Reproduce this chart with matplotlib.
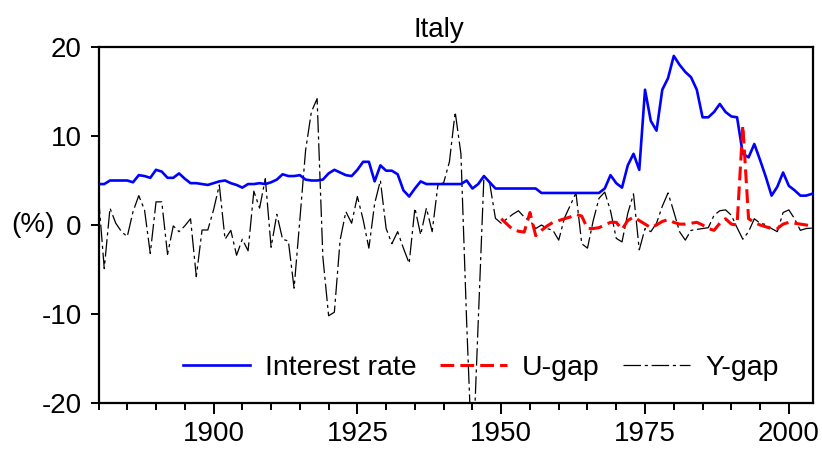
import numpy as np
import matplotlib
matplotlib.use("Agg")
import matplotlib.pyplot as plt

plt.rcParams["font.family"] = ["Liberation Sans", "DejaVu Sans"]
plt.rcParams["axes.unicode_minus"] = False

years = np.arange(1880, 2005)

interest_rate = [
    4.6, 4.6, 5.0, 5.0, 5.0, 5.0, 4.8, 5.6, 5.5, 5.3,      # 1880s
    6.2, 6.0, 5.3, 5.3, 5.8, 5.2, 4.7, 4.7, 4.6, 4.5,      # 1890s
    4.7, 4.9, 5.0, 4.7, 4.5, 4.2, 4.6, 4.6, 4.7, 4.6,      # 1900s
    4.8, 5.1, 5.7, 5.5, 5.5, 5.6, 5.1, 5.0, 5.0, 5.1,      # 1910s
    5.8, 6.2, 5.9, 5.6, 5.5, 6.2, 7.1, 7.1, 4.9, 6.7,      # 1920s
    6.1, 6.1, 5.7, 3.9, 3.2, 4.1, 4.9, 4.6, 4.6, 4.6,      # 1930s
    4.6, 4.6, 4.6, 4.6, 5.0, 4.1, 4.6, 5.5, 4.8, 4.1,      # 1940s
    4.1, 4.1, 4.1, 4.1, 4.1, 4.1, 4.1, 3.6, 3.6, 3.6,      # 1950s
    3.6, 3.6, 3.6, 3.6, 3.6, 3.6, 3.6, 3.6, 4.1, 5.6,      # 1960s
    4.7, 4.2, 6.7, 8.0, 6.2, 15.2, 11.7, 10.6, 15.2, 16.5, # 1970s
    19.0, 18.0, 17.2, 16.6, 15.2, 12.1, 12.1, 12.7, 13.6, 12.7,  # 1980s
    12.2, 12.1, 8.0, 7.6, 9.1, 7.3, 5.4, 3.3, 4.3, 5.9,    # 1990s
    4.4, 3.9, 3.3, 3.3, 3.5,                               # 2000s
]

y_gap = [
    3.2, -4.9, 1.9, 0.2, -0.75, -1.3, 1.5, 3.3, 1.7, -3.2,       # 1880s
    2.6, 2.6, -3.3, -0.1, -0.75, -0.1, 0.7, -5.8, -0.56, -0.56,  # 1890s
    1.7, 4.5, -1.6, -0.6, -3.4, -1.6, -2.9, 3.8, 1.9, 5.2,       # 1900s
    -2.5, 1.2, -1.6, -1.8, -7.1, 0.6, 8.4, 12.7, 14.2, -3.6,     # 1910s
    -10.2, -9.8, -1.7, 1.5, 0.2, 3.2, 0.6, -2.6, 2.4, 5.0,       # 1920s
    -0.4, -2.1, -0.75, -2.6, -4.3, 1.9, -1.1, 1.9, -0.75, 4.5,   # 1930s
    4.75, 7.1, 12.7, 8.0, -11.0, -27.5, -11.0, 5.5, 4.7, 0.75,   # 1940s
    0.2, 0.7, 1.2, 1.6, 0.9, 0.5, -0.4, 0.0, -0.4, -0.6,         # 1950s
    -1.7, 0.8, 2.2, 3.6, -2.1, -2.6, 0.5, 3.0, 3.7, 1.6,         # 1960s
    -1.5, -1.9, 1.3, 3.5, -2.8, -0.4, -0.75, 0.2, 2.1, 3.6,      # 1970s
    1.5, -0.75, -1.7, -0.6, -0.5, -0.4, -0.3, 1.1, 1.6, 1.7,     # 1980s
    1.1, -0.3, -1.6, -0.75, 0.7, 0.2, 0.05, -0.4, -0.75, 1.4,    # 1990s
    1.7, 0.7, -0.6, -0.4, -0.35,                                 # 2000s
]

u_years = np.arange(1950, 2005)
u_gap = [
    0.7, 0.1, -0.5, -0.7, -0.8, 1.4, -1.2, -0.6, -0.1, 0.3,   # 1950s
    0.5, 0.7, 0.9, 1.2, 1.0, -0.4, -0.4, -0.3, 0.0, 0.3,      # 1960s
    0.3, -0.5, 0.5, 0.9, 0.5, 0.1, -0.3, 0.0, 0.4, 0.6,       # 1970s
    0.3, 0.1, 0.1, 0.2, 0.3, 0.0, -0.4, -0.6, 0.2, 0.7,       # 1980s
    0.1, 0.0, 11.2, 0.7, 0.3, 0.0, -0.2, -0.4, -0.4, 0.1,     # 1990s
    0.3, 0.2, 0.1, 0.0, -0.1,                                 # 2000s
]

fig = plt.figure(figsize=(8.22, 4.49), dpi=100)
ax = fig.add_axes([98.5 / 822, 1 - 403 / 449, (813 - 98.5) / 822, (403 - 47) / 449])

ax.plot(years, interest_rate, color="#0000ff", lw=1.9, label="Interest rate", zorder=3)
ax.plot(u_years, u_gap, color="#ff0000", lw=2.2, linestyle=(0, (4.5, 2)),
        label="U-gap", zorder=4)
ax.plot(years, y_gap, color="black", lw=0.9, linestyle=(0, (14, 3, 2.5, 3)),
        label="Y-gap", zorder=2)

ax.set_xlim(1880, 2004.2)
ax.set_ylim(-20, 20)
ax.set_yticks([-20, -10, 0, 10, 20])
ax.set_xticks([1900, 1925, 1950, 1975, 2000])
ax.set_xticks(np.arange(1880, 2005, 5), minor=True)

for side in ["top", "bottom", "left", "right"]:
    ax.spines[side].set_linewidth(1.6)

ax.tick_params(axis="y", which="major", length=6, width=1.4, pad=6, labelsize=20)
ax.tick_params(axis="x", which="major", length=8, width=1.4, pad=5, labelsize=20)
ax.tick_params(axis="x", which="minor", length=5, width=1.4)

ax.set_ylabel("(%)", rotation=0, ha="right", va="center", fontsize=20)
ax.yaxis.set_label_coords(-0.061, 0.5)

fig.text(439 / 822, 1 - 37 / 449, "Italy", ha="center", va="baseline", fontsize=20)

leg = ax.legend(loc="center", bbox_to_anchor=(0.535, 0.098), ncol=3, frameon=False,
                fontsize=20.5, handlelength=2.35, handletextpad=0.55, columnspacing=0.8,
                borderaxespad=0, borderpad=0)
leg.set_zorder(1)

fig.savefig("out.png", dpi=100)
